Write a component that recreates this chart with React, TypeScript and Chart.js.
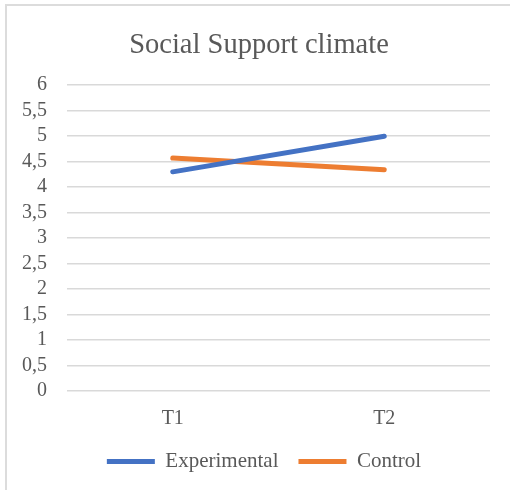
import React, { useEffect, useRef } from "react";
import { Chart, registerables } from "chart.js";

Chart.register(...registerables);

const categories = ["T1", "T2"];
const experimental = [4.3, 5.0];
const control = [4.57, 4.34];
const seriesNames = ["Experimental", "Control"];
const titleText = "Social Support climate";

const shiftPlugin = {
  id: "shiftBlocks",
  afterLayout(chart: any) {
    const t = chart.titleBlock;
    if (t) {
      t.left += 13;
      t.right += 13;
    }
    const l = chart.legend;
    if (l) {
      l.left += 18;
      l.right += 18;
      l.top -= 8;
      l.bottom -= 8;
    }
  },
};

export default function App() {
  const ref = useRef<HTMLCanvasElement | null>(null);
  useEffect(() => {
    if (!ref.current) return;
    const font = "'Liberation Serif', 'Times New Roman', serif";
    const chart = new Chart(ref.current, {
      type: "line",
      data: {
        labels: categories,
        datasets: [
          {
            label: seriesNames[0],
            data: experimental,
            borderColor: "#4472C4",
            backgroundColor: "#4472C4",
            borderWidth: 5,
            borderCapStyle: "round",
            pointRadius: 0,
            pointStyle: "line",
          },
          {
            label: seriesNames[1],
            data: control,
            borderColor: "#ED7D31",
            backgroundColor: "#ED7D31",
            borderWidth: 5,
            borderCapStyle: "round",
            pointRadius: 0,
            pointStyle: "line",
          },
        ],
      },
      plugins: [shiftPlugin],
      options: {
        animation: false,
        responsive: false,
        layout: { padding: { left: 2, right: 20, top: 28, bottom: 0 } },
        plugins: {
          title: {
            display: true,
            text: titleText,
            color: "#595959",
            font: { family: font, size: 28.5, weight: "normal" },
            padding: { top: 0, bottom: 23 },
          },
          legend: {
            position: "bottom",
            labels: {
              usePointStyle: true,
              pointStyleWidth: 48,
              boxHeight: 20,
              color: "#595959",
              font: { family: font, size: 21 },
              padding: 20,
            },
          },
          tooltip: { enabled: false },
        },
        scales: {
          x: {
            offset: true,
            grid: { display: false },
            border: { display: false },
            ticks: {
              color: "#595959",
              font: { family: font, size: 20 },
              padding: 8,
            },
          },
          y: {
            min: 0,
            max: 6,
            grid: { color: "#d9d9d9", lineWidth: 1.5, drawTicks: false },
            border: { display: false },
            ticks: {
              stepSize: 0.5,
              autoSkip: false,
              color: "#595959",
              font: { family: font, size: 20 },
              padding: 20,
              callback: (v: any) => String(v).replace(".", ","),
            },
          },
        },
      },
    });
    return () => chart.destroy();
  }, []);
  return (
    <div style={{ position: "absolute", left: 0, top: 0, width: 510, height: 490, background: "#fff" }}>
      <div
        style={{
          position: "absolute",
          left: 5,
          top: 4,
          width: 520,
          height: 500,
          borderTop: "2px solid #dcdcdc",
          borderLeft: "2px solid #dcdcdc",
        }}
      />
      <canvas ref={ref} width={510} height={490} style={{ position: "absolute", left: 0, top: 0 }} />
    </div>
  );
}
